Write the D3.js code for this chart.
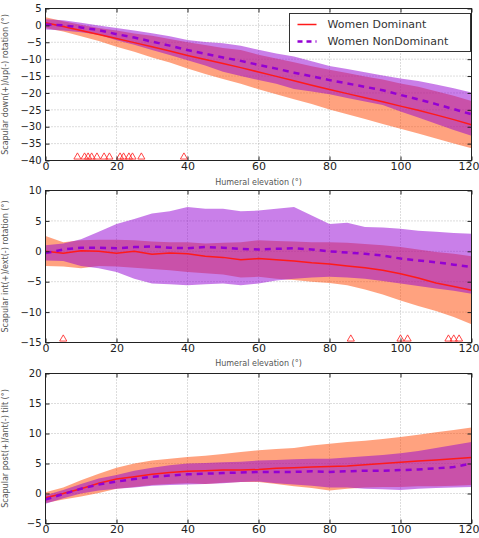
<!DOCTYPE html>
<html lang="en">
<head>
  <meta charset="utf-8">
  <title>Scapular kinematics</title>
  <style>
    body {
      margin: 0;
      background: #fff;
      font-family: "DejaVu Sans", sans-serif;
    }
    .grid line { stroke: #a8a8a8; stroke-width: 0.8; stroke-dasharray: 1,2; }
    .tick text { font-family: "DejaVu Sans", sans-serif; fill: #222; }
    .axis path { display: none; }
    .axis line { stroke: #222; }
    .lbl { font-size: 8px; fill: #555; }
  </style>
</head>
<body>
  <div id="chart"></div>

  <script src="https://d3js.org/d3.v7.min.js"></script>
  <script>
    // humeral elevation (deg), one value every 5 deg
    var elevation = [0, 5, 10, 15, 20, 25, 30, 35, 40, 45, 50, 55, 60,
                     65, 70, 75, 80, 85, 90, 95, 100, 105, 110, 115, 120];

    // panel 1 - down(+)/up(-) rotation
    var rotDomMean = [0.8, -0.3, -1.5, -2.7, -3.9, -5.1, -6.3, -7.6, -8.9, -10.1, -11.3, -12.5, -13.8,
                      -15.1, -16.4, -17.7, -19.0, -20.2, -21.4, -22.6, -23.9, -25.1, -26.5, -27.9, -29.4];
    var rotDomLo = [-0.8, -1.8, -3.2, -4.6, -6.3, -7.8, -9.5, -11.0, -12.8, -14.4, -15.9, -17.3, -18.9,
                    -20.4, -21.9, -23.3, -24.9, -26.3, -27.7, -29.2, -30.6, -32.0, -33.5, -35.0, -36.4];
    var rotDomHi = [2.4, 1.2, 0.2, -0.8, -1.5, -2.4, -3.1, -4.0, -5.0, -5.8, -6.7, -7.3, -8.7,
                    -9.8, -10.9, -12.1, -13.1, -14.1, -15.1, -16.0, -17.2, -18.2, -19.5, -20.8, -22.4];
    var rotNonMean = [0.3, 0.0, -0.6, -1.4, -2.6, -3.6, -4.8, -6.0, -7.3, -8.4, -9.5, -10.5, -11.7,
                      -12.8, -14.0, -15.1, -16.2, -17.2, -18.2, -19.2, -20.6, -21.9, -23.3, -24.8, -26.3];
    var rotNonLo = [-1.2, -1.5, -2.0, -2.8, -4.4, -5.7, -7.3, -8.8, -10.3, -11.9, -13.7, -15.0, -16.2,
                    -17.3, -18.8, -19.6, -20.4, -21.5, -22.5, -23.6, -25.5, -27.3, -29.1, -31.0, -32.7];
    var rotNonHi = [1.8, 1.5, 0.8, 0.0, -0.8, -1.5, -2.3, -3.2, -4.3, -4.9, -5.3, -6.0, -7.2,
                    -8.3, -9.2, -10.6, -12.0, -12.9, -13.9, -14.8, -15.7, -16.5, -17.5, -18.6, -19.9];
    var rotSignif = [9, 11, 12, 13, 14.5, 16.5, 18, 21, 22, 23.5, 24.5, 27, 39];

    // panel 2 - int(+)/ext(-) rotation
    var intDomMean = [0.0, -0.3, 0.1, 0.0, -0.3, 0.0, -0.5, -0.3, -0.4, -0.8, -1.0, -1.4, -1.2,
                      -1.4, -1.6, -1.9, -2.1, -2.4, -2.7, -3.1, -3.7, -4.4, -5.2, -5.8, -6.4];
    var intDomLo = [-2.4, -2.5, -2.8, -2.4, -2.5, -2.7, -2.9, -3.1, -3.4, -3.6, -3.8, -4.3, -4.2,
                    -4.5, -4.7, -5.0, -5.2, -5.6, -6.3, -7.1, -8.1, -9.0, -9.8, -10.8, -12.0];
    var intDomHi = [2.5, 1.5, 1.8, 1.9, 1.9, 1.8, 1.6, 1.5, 1.5, 1.3, 1.4, 1.5, 1.8,
                    1.7, 1.6, 1.5, 1.5, 1.4, 1.2, 1.0, 0.7, 0.3, -0.1, -0.4, -0.8];
    var intNonMean = [-0.3, 0.3, 0.6, 0.6, 0.5, 0.7, 0.8, 0.6, 0.5, 0.7, 0.6, 0.4, 0.3,
                      0.4, 0.5, 0.3, 0.0, -0.2, -0.4, -0.7, -1.2, -1.5, -1.8, -2.2, -2.6];
    var intNonLo = [-1.5, -1.6, -2.4, -2.8, -3.4, -4.5, -5.3, -5.4, -5.6, -5.4, -5.3, -5.6, -5.3,
                    -4.8, -4.5, -4.3, -4.2, -4.3, -4.5, -4.9, -5.3, -5.7, -6.1, -6.5, -7.0];
    var intNonHi = [1.0, 1.3, 2.0, 3.2, 4.5, 5.3, 6.2, 6.6, 7.3, 7.0, 7.0, 6.6, 6.7,
                    7.0, 7.3, 5.9, 4.5, 4.7, 4.0, 3.9, 3.7, 3.4, 3.2, 3.0, 2.9];
    var intSignif = [5, 86, 100, 102, 113.5, 115, 116.5];

    // panel 3 - post(+)/ant(-) tilt
    var tiltDomMean = [-0.7, 0.0, 0.8, 1.7, 2.4, 2.8, 3.2, 3.5, 3.7, 3.8, 3.9, 3.9, 4.0,
                       4.2, 4.3, 4.4, 4.5, 4.6, 4.8, 5.0, 5.2, 5.4, 5.6, 5.8, 6.0];
    var tiltDomLo = [-1.6, -1.0, -0.5, 0.1, 0.8, 1.1, 1.4, 1.6, 1.7, 1.6, 1.8, 1.9, 1.9,
                     1.6, 1.2, 0.9, 0.5, 0.8, 1.0, 1.1, 1.1, 1.2, 1.2, 1.3, 1.4];
    var tiltDomHi = [0.2, 1.0, 2.2, 3.3, 4.3, 5.0, 5.5, 5.8, 6.1, 6.3, 6.6, 6.9, 7.2,
                     7.4, 7.6, 8.0, 8.3, 8.6, 8.8, 9.1, 9.4, 9.8, 10.2, 10.6, 11.0];
    var tiltNonMean = [-1.0, -0.1, 0.8, 1.5, 2.0, 2.4, 2.8, 3.0, 3.2, 3.3, 3.4, 3.5, 3.6,
                       3.6, 3.6, 3.7, 3.6, 3.7, 3.8, 3.8, 3.9, 4.0, 4.2, 4.4, 5.0];
    var tiltNonLo = [-1.7, -0.8, 0.0, 0.5, 0.8, 1.0, 1.3, 1.4, 1.5, 1.6, 1.7, 1.9, 2.0,
                     1.7, 1.5, 1.3, 1.0, 1.0, 0.8, 0.7, 0.6, 0.8, 0.9, 1.0, 1.1];
    var tiltNonHi = [-0.3, 0.6, 1.6, 2.5, 3.1, 3.8, 4.3, 4.7, 5.0, 5.1, 5.2, 5.3, 5.5,
                     5.6, 5.7, 5.8, 5.8, 6.0, 6.2, 6.4, 6.7, 7.1, 7.6, 8.1, 8.6];
    var tiltSignif = [];

    var xTicks = [0, 20, 40, 60, 80, 100, 120];
    var seriesNames = ["Women Dominant", "Women NonDominant"];

    var domColor = "#ff1a1a";
    var nonColor = "#9400d3";

    function rows(lo, mean, hi) {
      return elevation.map(function (e, i) {
        return { x: e, lo: lo[i], mean: mean[i], hi: hi[i] };
      });
    }

    var panels = [
      { top: 8.5, bottom: 160.5, domain: [-40, 5],
        ylabel: "Scapular down(+)/up(-) rotation (\u00b0)",
        dom: rows(rotDomLo, rotDomMean, rotDomHi), non: rows(rotNonLo, rotNonMean, rotNonHi),
        signif: rotSignif, xlabelY: 185, legend: true },
      { top: 190.5, bottom: 342.5, domain: [-15, 10],
        ylabel: "Scapular int(+)/ext(-) rotation (\u00b0)",
        dom: rows(intDomLo, intDomMean, intDomHi), non: rows(intNonLo, intNonMean, intNonHi),
        signif: intSignif, xlabelY: 366 },
      { top: 373.5, bottom: 523.5, domain: [-5, 20],
        ylabel: "Scapular post(+)/ant(-) tilt (\u00b0)",
        dom: rows(tiltDomLo, tiltDomMean, tiltDomHi), non: rows(tiltNonLo, tiltNonMean, tiltNonHi),
        signif: tiltSignif }
    ];

    var svg = d3.select("#chart").append("svg")
      .attr("width", 479)
      .attr("height", 538);

    var x = d3.scaleLinear().domain([0, 120]).range([45.5, 471.5]);

    panels.forEach(function (p, k) {
      var y = d3.scaleLinear().domain(p.domain).range([p.bottom, p.top]);
      var yTicks = d3.range(p.domain[0], p.domain[1] + 1, 5);

      var clipId = "clip" + k;
      svg.append("clipPath").attr("id", clipId)
        .append("rect")
        .attr("x", x(0)).attr("y", p.top)
        .attr("width", x(120) - x(0)).attr("height", p.bottom - p.top);

      var g = svg.append("g");

      // dotted grid
      var grid = g.append("g").attr("class", "grid");
      grid.selectAll(".gx").data(xTicks.slice(1, -1)).enter().append("line")
        .attr("x1", function (d) { return x(d); }).attr("x2", function (d) { return x(d); })
        .attr("y1", p.top).attr("y2", p.bottom);
      grid.selectAll(".gy").data(yTicks.slice(1, -1)).enter().append("line")
        .attr("y1", function (d) { return y(d); }).attr("y2", function (d) { return y(d); })
        .attr("x1", x(0)).attr("x2", x(120));

      var plot = g.append("g").attr("clip-path", "url(#" + clipId + ")");

      var band = d3.area()
        .x(function (d) { return x(d.x); })
        .y0(function (d) { return y(d.lo); })
        .y1(function (d) { return y(d.hi); });
      var line = d3.line()
        .x(function (d) { return x(d.x); })
        .y(function (d) { return y(d.mean); });

      plot.append("path").attr("d", band(p.dom))
        .attr("fill", "#ff4500").attr("fill-opacity", 0.5);
      plot.append("path").attr("d", band(p.non))
        .attr("fill", nonColor).attr("fill-opacity", 0.5);

      plot.append("path").attr("d", line(p.dom))
        .attr("fill", "none").attr("stroke", domColor).attr("stroke-width", 1.5);
      plot.append("path").attr("d", line(p.non))
        .attr("fill", "none").attr("stroke", nonColor).attr("stroke-width", 2.5)
        .attr("stroke-dasharray", "6,5");

      // significant differences
      var tri = d3.symbol().type(d3.symbolTriangle).size(22);
      g.selectAll(".sig").data(p.signif).enter().append("path")
        .attr("d", tri)
        .attr("transform", function (d) { return "translate(" + x(d) + "," + (y(p.domain[0]) - 3.5) + ")"; })
        .attr("fill", "none").attr("stroke", "#ff3030").attr("stroke-width", 0.9);

      // axes, ticks pointing inward
      g.append("g").attr("class", "axis")
        .attr("transform", "translate(" + x(0) + ",0)")
        .call(d3.axisLeft(y).tickValues(yTicks).tickSizeInner(-4).tickPadding(4).tickFormat(d3.format("d")))
        .selectAll("text").style("font-size", "10px");
      g.append("g").attr("class", "axis")
        .attr("transform", "translate(" + x(120) + ",0)")
        .call(d3.axisRight(y).tickValues(yTicks).tickSizeInner(-4).tickFormat(""));
      var xa = g.append("g").attr("class", "axis")
        .attr("transform", "translate(0," + p.bottom + ")")
        .call(d3.axisBottom(x).tickValues(xTicks).tickSizeInner(-4).tickPadding(2));
      xa.selectAll("text").style("font-size", "11px");
      // the last label sits on the window edge; pull it in a little
      xa.selectAll(".tick").filter(function (d) { return d === 120; })
        .select("text").attr("dx", "-3");
      g.append("g").attr("class", "axis")
        .attr("transform", "translate(0," + p.top + ")")
        .call(d3.axisTop(x).tickValues(xTicks).tickSizeInner(-4).tickFormat(""));

      g.append("rect")
        .attr("x", x(0)).attr("y", p.top)
        .attr("width", x(120) - x(0)).attr("height", p.bottom - p.top)
        .attr("fill", "none").attr("stroke", "#222").attr("stroke-width", 1);

      // axis labels
      svg.append("text").attr("class", "lbl")
        .attr("transform", "translate(8," + ((p.top + p.bottom) / 2) + ") rotate(-90)")
        .attr("text-anchor", "middle")
        .text(p.ylabel);
      if (p.xlabelY) {
        svg.append("text").attr("class", "lbl")
          .attr("x", (x(0) + x(120)) / 2).attr("y", p.xlabelY)
          .attr("text-anchor", "middle")
          .text("Humeral elevation (\u00b0)");
      }

      if (p.legend) {
        var lg = svg.append("g").attr("transform", "translate(289.5,13.5)");
        lg.append("rect").attr("width", 181).attr("height", 38)
          .attr("fill", "#fff").attr("stroke", "#333").attr("stroke-width", 1);
        var items = [
          { name: seriesNames[0], color: domColor, w: 1.5, dash: null },
          { name: seriesNames[1], color: nonColor, w: 2.5, dash: "5,4" }
        ];
        items.forEach(function (it, i) {
          var cy = 11 + i * 17;
          lg.append("line").attr("x1", 8).attr("x2", 27).attr("y1", cy).attr("y2", cy)
            .attr("stroke", it.color).attr("stroke-width", it.w)
            .attr("stroke-dasharray", it.dash);
          lg.append("text").attr("x", 38).attr("y", cy).attr("dy", "0.35em")
            .style("font-size", "11px").attr("fill", "#333")
            .text(it.name);
        });
      }
    });
  </script>
</body>
</html>
